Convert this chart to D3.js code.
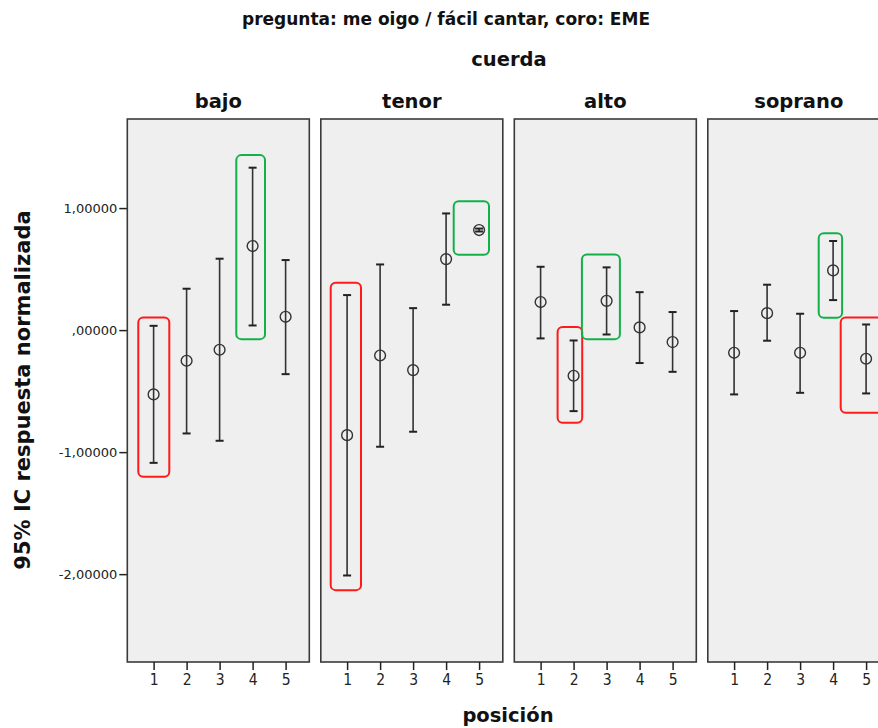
<!DOCTYPE html>
<html><head><meta charset="utf-8">
<script src="https://cdn.jsdelivr.net/npm/d3@7"></script>
<style>
body{margin:0;background:#fff;}
svg{display:block;}
.lbl{font-family:"DejaVu Sans",sans-serif;font-weight:bold;fill:#111;}
.cond{font-family:"Liberation Sans Narrow","DejaVu Sans Condensed","Arial Narrow",sans-serif;font-stretch:condensed;}
.ytick text{font-family:"DejaVu Sans",sans-serif;}
</style>
</head><body>
<svg id="chart" width="878" height="728"></svg>
<script>
const titulo = "pregunta: me oigo / fácil cantar, coro: EME";
const cuerdas = ["bajo", "tenor", "alto", "soprano"];
const posiciones = [1, 2, 3, 4, 5];
const yTicks = [1, 0, -1, -2];
const yTickLabels = ["1,00000", ",00000", "-1,00000", "-2,00000"];
// medias por cuerda (filas) y posición (columnas)
const medias = [
  [-0.527, -0.251, -0.161, 0.689, 0.109],
  [-0.861, -0.208, -0.328, 0.582, 0.820],
  [0.230, -0.374, 0.240, 0.022, -0.098],
  [-0.186, 0.139, -0.186, 0.489, -0.235]
];
const limInf = [
  [-1.088, -0.847, -0.907, 0.038, -0.361],
  [-2.011, -0.956, -0.833, 0.208, 0.808],
  [-0.068, -0.664, -0.036, -0.270, -0.342],
  [-0.527, -0.087, -0.514, 0.246, -0.519]
];
const limSup = [
  [0.035, 0.339, 0.585, 1.331, 0.574],
  [0.287, 0.538, 0.180, 0.956, 0.832],
  [0.519, -0.085, 0.514, 0.311, 0.148],
  [0.156, 0.372, 0.134, 0.730, 0.046]
];
// anotaciones: cuerda, posición desde/hasta, valor arriba/abajo, color
const marcoCuerda = [0, 0, 1, 1, 2, 2, 3, 3];
const marcoPosIni = [0.536, 3.506, 0.503, 4.230, 1.515, 2.252, 3.564, 4.230];
const marcoPosFin = [1.476, 4.376, 1.421, 5.300, 2.261, 3.403, 4.273, 5.555];
const marcoSup = [0.104, 1.434, 0.388, 1.055, 0.025, 0.620, 0.793, 0.104];
const marcoInf = [-1.202, -0.074, -2.131, 0.617, -0.760, -0.074, 0.101, -0.678];
const marcoColor = ["red", "green", "red", "green", "red", "green", "green", "red"];
const colores = {red: "#ff1a1a", green: "#13b04a"};

const svg = d3.select("#chart");
const plotTop = 119, plotBottom = 662;
const panelLeft0 = 127.3, panelW = 182, panelStep = 193.5;

const y = d3.scaleLinear().domain([-2.72, 1.73]).range([plotBottom, plotTop]);
const x = d3.scaleLinear().domain([1, 5]).range([26.3, 158.3]);
const panelX = d3.scaleBand().domain(cuerdas).range([panelLeft0, panelLeft0 + panelStep * 4]).paddingInner(0);

// Titles
svg.append("text").attr("class", "lbl").attr("x", 446).attr("y", 25)
  .attr("text-anchor", "middle").attr("font-size", 17).text(titulo);
svg.append("text").attr("class", "lbl").attr("x", 509).attr("y", 66)
  .attr("text-anchor", "middle").attr("font-size", 19.5).text("cuerda");
svg.append("text").attr("class", "lbl").attr("x", 508).attr("y", 722)
  .attr("text-anchor", "middle").attr("font-size", 19.5).text("posición");
svg.append("text").attr("class", "lbl").attr("transform", "translate(30,390) rotate(-90)")
  .attr("text-anchor", "middle").attr("font-size", 21)
  .text("95% IC respuesta normalizada");

// Y axis
const yAxis = d3.axisLeft(y).tickValues(yTicks)
  .tickFormat((d, i) => yTickLabels[i]).tickSize(8).tickPadding(2);
const ya = svg.append("g").attr("class", "ytick").attr("transform", `translate(${panelLeft0},0)`).call(yAxis);
ya.select(".domain").remove();
ya.selectAll(".tick line").attr("stroke", "#222").attr("stroke-width", 1.5);
ya.selectAll(".tick text").attr("font-size", 13).attr("fill", "#222");

cuerdas.forEach((c, ci) => {
  const g = svg.append("g").attr("transform", `translate(${panelX(c)},0)`);
  g.append("text").attr("class", "lbl").attr("x", panelW / 2).attr("y", 108)
    .attr("text-anchor", "middle").attr("font-size", 19.5).text(c);
  g.append("rect").attr("x", 0).attr("y", plotTop).attr("width", panelW).attr("height", plotBottom - plotTop)
    .attr("fill", "#efefef").attr("stroke", "#3a3a3a").attr("stroke-width", 1.6);
  // x axis
  const xAxis = d3.axisBottom(x).tickValues(posiciones).tickFormat(d3.format("d")).tickSize(8).tickPadding(4);
  const xa = g.append("g").attr("transform", `translate(0,${plotBottom})`).call(xAxis);
  xa.select(".domain").remove();
  xa.selectAll(".tick line").attr("stroke", "#222").attr("stroke-width", 1.5);
  xa.selectAll(".tick text").attr("class", "cond").attr("font-size", 15.5).attr("fill", "#222");

  const data = posiciones.map((p, i) => ({p, m: medias[ci][i], lo: limInf[ci][i], hi: limSup[ci][i]}));
  const eb = g.selectAll(".eb").data(data).enter().append("g");
  eb.append("line").attr("x1", d => x(d.p)).attr("x2", d => x(d.p))
    .attr("y1", d => y(d.hi)).attr("y2", d => y(d.lo)).attr("stroke", "#333").attr("stroke-width", 1.6);
  eb.append("line").attr("x1", d => x(d.p) - 4).attr("x2", d => x(d.p) + 4)
    .attr("y1", d => y(d.hi)).attr("y2", d => y(d.hi)).attr("stroke", "#222").attr("stroke-width", 2);
  eb.append("line").attr("x1", d => x(d.p) - 4).attr("x2", d => x(d.p) + 4)
    .attr("y1", d => y(d.lo)).attr("y2", d => y(d.lo)).attr("stroke", "#222").attr("stroke-width", 2);
  eb.append("circle").attr("cx", d => x(d.p)).attr("cy", d => y(d.m)).attr("r", 5.4)
    .attr("fill", "none").attr("stroke", "#333").attr("stroke-width", 1.4);

  // annotation boxes
  marcoCuerda.forEach((mc, k) => {
    if (mc !== ci) return;
    g.append("rect").attr("x", x(marcoPosIni[k])).attr("y", y(marcoSup[k]))
      .attr("width", x(marcoPosFin[k]) - x(marcoPosIni[k]))
      .attr("height", y(marcoInf[k]) - y(marcoSup[k]))
      .attr("rx", 5).attr("ry", 5).attr("fill", "none")
      .attr("stroke", colores[marcoColor[k]]).attr("stroke-width", 2);
  });
});
</script>
</body></html>
